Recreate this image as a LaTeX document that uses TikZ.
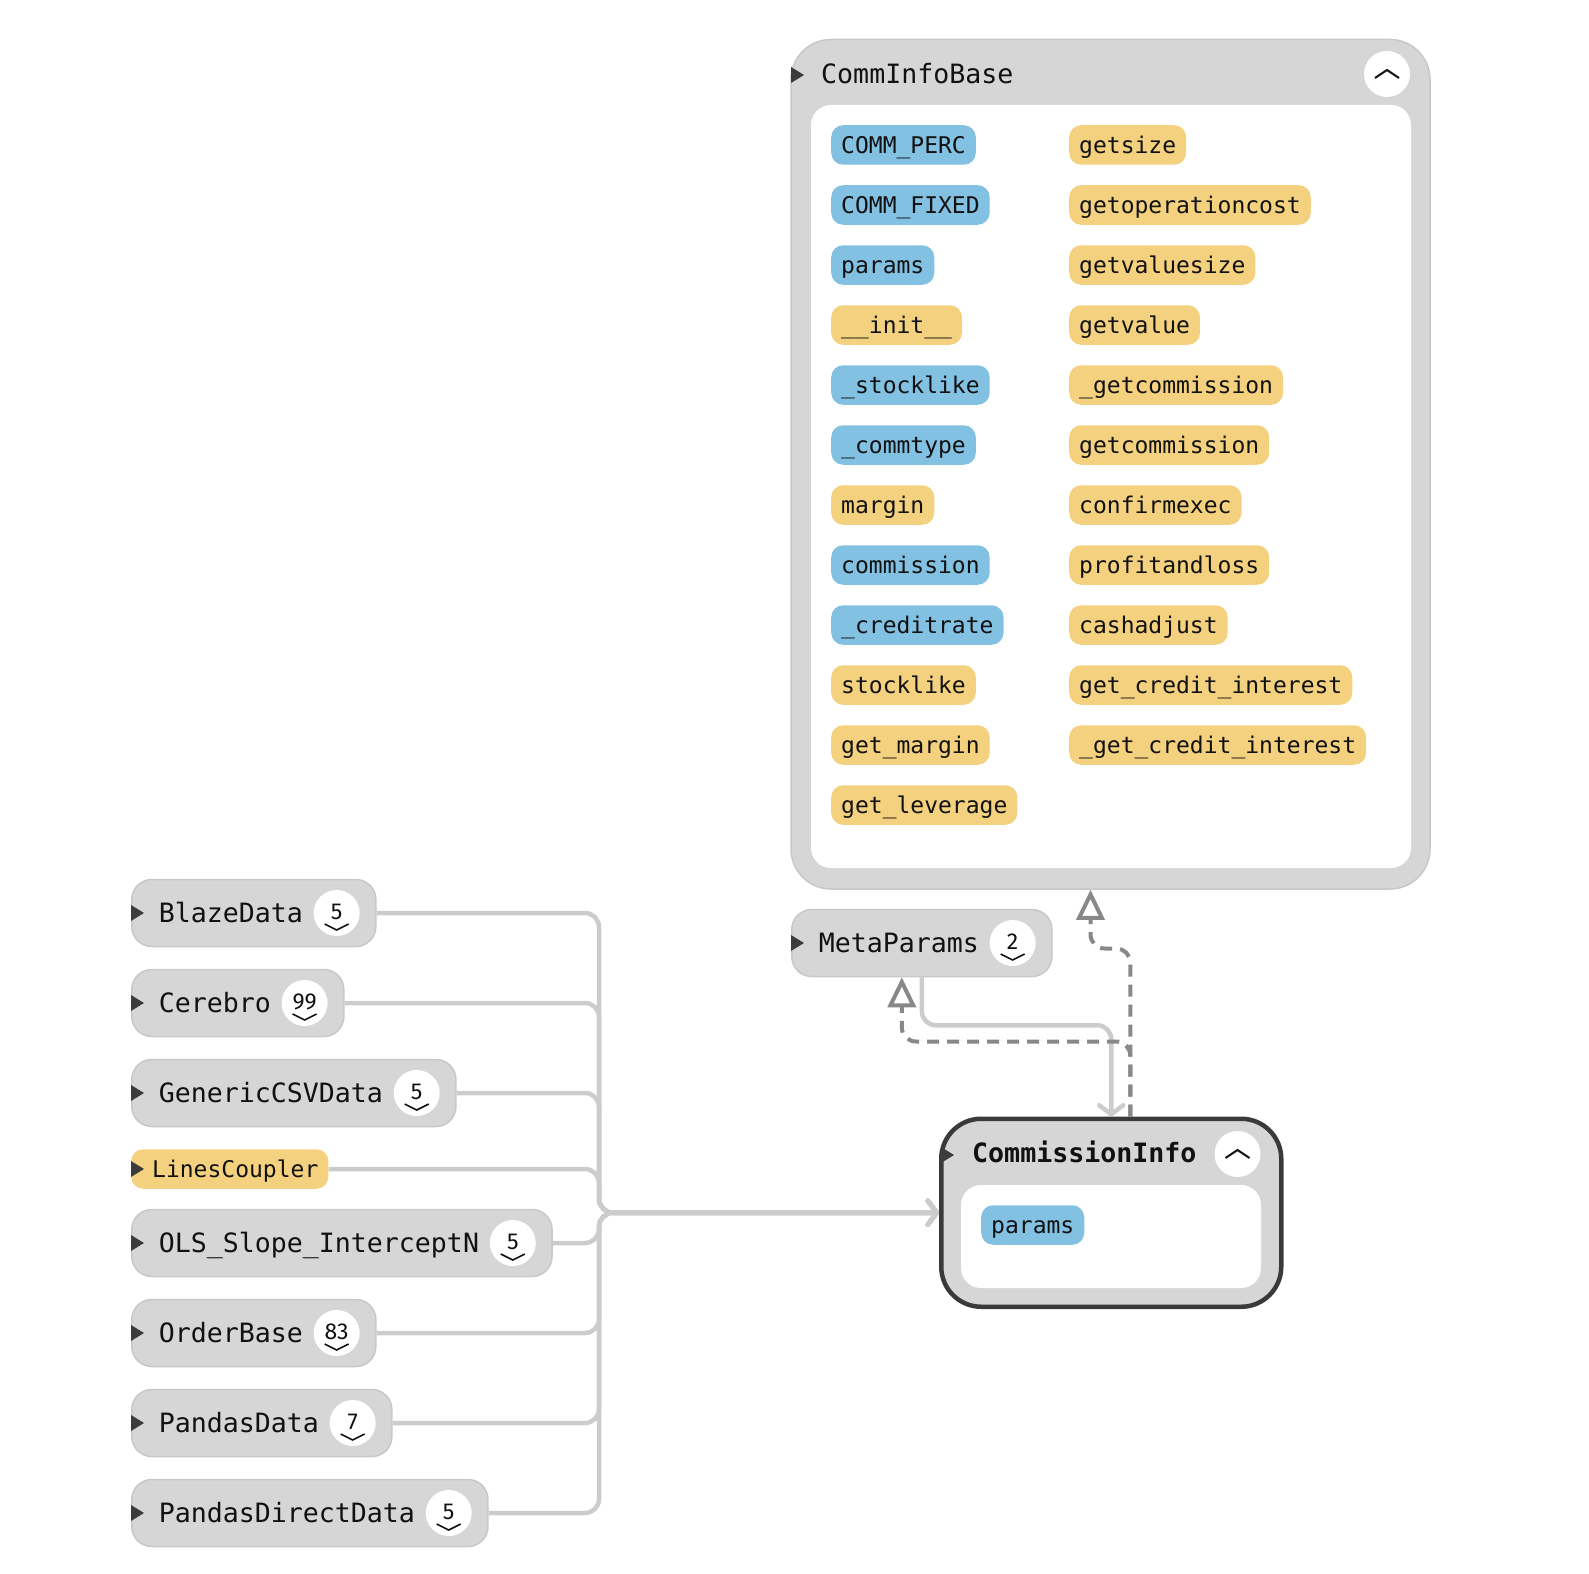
\documentclass[tikz,border=0pt]{standalone}
\usepackage{fontspec}
\setmonofont{DejaVu Sans Mono}
\newfontfamily\numfont{Fira Sans}
\usepackage{tikz}
\usetikzlibrary{arrows.meta,calc}
\definecolor{clsfill}{HTML}{D6D6D6}
\definecolor{clsline}{HTML}{C8C8C8}
\definecolor{ciline}{HTML}{3A3A3A}
\definecolor{lnk}{HTML}{CCCCCC}
\definecolor{inhc}{HTML}{888888}
\definecolor{attrc}{HTML}{83C1E3}
\definecolor{methc}{HTML}{F4D17E}
\definecolor{ink}{HTML}{111111}
\definecolor{markc}{HTML}{3C3C3C}
\newcommand{\xmark}[1]{\fill[markc] (#1) ++(0,-8) -- ++(13,8) -- ++(-13,8) -- cycle;}
\tikzset{
  cls/.style={draw=clsline,line width=1.5pt,fill=clsfill,rounded corners=20pt,minimum height=67pt,inner sep=0pt,anchor=west,text=ink,
    font=\fontsize{26.6pt}{30pt}\selectfont\ttfamily,text height=19.4pt,text depth=0pt,
    execute at begin node=\hspace{27pt},execute at end node=\hspace{73pt}},
  mem/.style={rounded corners=12pt,minimum height=39.5pt,inner xsep=10pt,inner ysep=0pt,anchor=west,text=ink,
    font=\fontsize{23pt}{26pt}\selectfont\ttfamily,text height=16.8pt,text depth=0pt},
  attr/.style={mem,fill=attrc},
  meth/.style={mem,fill=methc},
  title/.style={anchor=west,inner sep=0pt,text=ink,font=\fontsize{26.6pt}{30pt}\selectfont\ttfamily,text height=19.4pt,text depth=0pt},
  badge/.style={circle,fill=white,minimum size=46pt,inner sep=0pt,text=ink,font=\fontsize{23pt}{25pt}\selectfont\numfont,
    text height=16pt,text depth=4pt,
    path picture={\draw[ink,line width=1.6pt] ([shift={(-12,11)}]path picture bounding box.center) -- ++(12,6) -- ++(12,-6);}},
  fold/.style={circle,fill=white,minimum size=46pt,inner sep=0pt,
    path picture={\draw[ink,line width=2pt] ([shift={(-12,4)}]path picture bounding box.center) -- ++(12,-8) -- ++(12,8);}},
  dep/.style={draw=lnk,line width=4.5pt,rounded corners=14pt,-{Straight Barb[length=9pt,width=24pt,round]}},
  inh/.style={draw=inhc,line width=4pt,dash pattern=on 12pt off 8pt,rounded corners=14pt,-{Triangle[open,length=30pt,width=28pt]}}
}
\begin{document}
\begin{tikzpicture}[x=1pt,y=-1pt]
\useasboundingbox (0,0) rectangle (1589,1573);
% base class with its members
\node[draw=clsline,line width=1.5pt,fill=clsfill,rounded corners=40pt,minimum width=639pt,minimum height=849.5pt] (cib) at (1110.5,464.25) {};
\fill[white,rounded corners=20pt] (811,105) rectangle (1411,868);
\node[title] (cibt) at (821,74) {CommInfoBase};
\node[fold] (cibf) at (1387,74) {};
\xmark{791,75}
\node[attr] (a1) at (831,145) {COMM\_PERC};
\node[attr] (a2) at (831,205) {COMM\_FIXED};
\node[attr] (a3) at (831,265) {params};
\node[meth] (a4) at (831,325) {\_\_init\_\_};
\node[attr] (a5) at (831,385) {\_stocklike};
\node[attr] (a6) at (831,445) {\_commtype};
\node[meth] (a7) at (831,505) {margin};
\node[attr] (a8) at (831,565) {commission};
\node[attr] (a9) at (831,625) {\_creditrate};
\node[meth] (a10) at (831,685) {stocklike};
\node[meth] (a11) at (831,745) {get\_margin};
\node[meth] (a12) at (831,805) {get\_leverage};
\node[meth] (b1) at (1069,145) {getsize};
\node[meth] (b2) at (1069,205) {getoperationcost};
\node[meth] (b3) at (1069,265) {getvaluesize};
\node[meth] (b4) at (1069,325) {getvalue};
\node[meth] (b5) at (1069,385) {\_getcommission};
\node[meth] (b6) at (1069,445) {getcommission};
\node[meth] (b7) at (1069,505) {confirmexec};
\node[meth] (b8) at (1069,565) {profitandloss};
\node[meth] (b9) at (1069,625) {cashadjust};
\node[meth] (b10) at (1069,685) {get\_credit\_interest};
\node[meth] (b11) at (1069,745) {\_get\_credit\_interest};
% focused class
\node[draw=ciline,line width=4.5pt,fill=clsfill,rounded corners=40pt,minimum width=340pt,minimum height=188pt] (ci) at (1111.25,1212.75) {};
\fill[white,rounded corners=20pt] (961,1185) rectangle (1261,1288);
\node[title,font=\fontsize{26.6pt}{30pt}\selectfont\ttfamily\bfseries] (cit) at (972,1153) {CommissionInfo};
\node[fold] (cif) at (1237.5,1154) {};
\xmark{941,1155}
\node[attr] (cip) at (981,1225) {params};
% other classes
\node[cls] (meta) at (791,943) {MetaParams};
\node[cls] (blaze) at (131,913) {BlazeData};
\node[cls] (cerebro) at (131,1003) {Cerebro};
\node[cls] (csv) at (131,1093) {GenericCSVData};
\node[meth,execute at begin node=\hspace{11pt}] (lines) at (131,1169) {LinesCoupler};
\node[cls] (ols) at (131,1243) {OLS\_Slope\_InterceptN};
\node[cls] (order) at (131,1333) {OrderBase};
\node[cls] (pandas) at (131,1423) {PandasData};
\node[cls] (direct) at (131,1513) {PandasDirectData};
\node[badge] (metan) at ([xshift=-40pt]meta.east) {2};
\node[badge] (blazen) at ([xshift=-40pt]blaze.east) {5};
\node[badge] (cerebron) at ([xshift=-40pt]cerebro.east) {99};
\node[badge] (csvn) at ([xshift=-40pt]csv.east) {5};
\node[badge] (olsn) at ([xshift=-40pt]ols.east) {5};
\node[badge] (ordern) at ([xshift=-40pt]order.east) {83};
\node[badge] (pandasn) at ([xshift=-40pt]pandas.east) {7};
\node[badge] (directn) at ([xshift=-40pt]direct.east) {5};
\xmark{meta.west}
\xmark{blaze.west}
\xmark{cerebro.west}
\xmark{csv.west}
\xmark{lines.west}
\xmark{ols.west}
\xmark{order.west}
\xmark{pandas.west}
\xmark{direct.west}
% connectors
\draw[dep] (blaze.east) -| ([xshift=-340pt]ci.west) -- (ci.west);
\draw[dep] (cerebro.east) -| ([xshift=-340pt]ci.west) -- (ci.west);
\draw[dep] (csv.east) -| ([xshift=-340pt]ci.west) -- (ci.west);
\draw[dep] (lines.east) -| ([xshift=-340pt]ci.west) -- (ci.west);
\draw[dep] (ols.east) -| ([xshift=-340pt]ci.west) -- (ci.west);
\draw[dep] (order.east) -| ([xshift=-340pt]ci.west) -- (ci.west);
\draw[dep] (pandas.east) -| ([xshift=-340pt]ci.west) -- (ci.west);
\draw[dep] (direct.east) -| ([xshift=-340pt]ci.west) -- (ci.west);
\draw[dep] (meta.south) -- ++(0,48) -| (ci.north);
\draw[inh] ([xshift=19pt]ci.north) -- ++(0,-75) -| ([xshift=-20pt]meta.south);
\draw[inh] ([xshift=19pt]ci.north) -- ++(0,-168) -| ([xshift=-20pt]cib.south);
\end{tikzpicture}
\end{document}
